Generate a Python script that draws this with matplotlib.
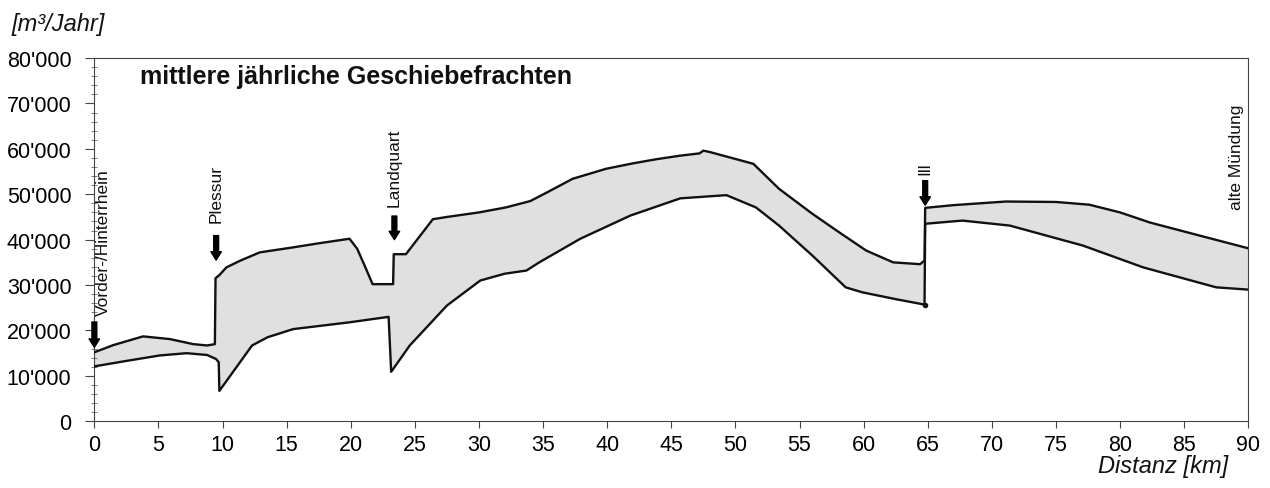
import numpy as np
import matplotlib
matplotlib.use('Agg')
import matplotlib.pyplot as plt
from matplotlib.ticker import MultipleLocator, FuncFormatter

plt.rcParams['font.family'] = ['Liberation Sans', 'DejaVu Sans']

# upper bound of the mean annual bedload [m3/year] along the river [km]
upper_km = [0, 1.5, 3.8, 5.9, 7.7, 8.8, 9.4, 9.45, 9.75, 10.3, 11.4, 12.9, 15.5,
            17.5, 19.9, 20.5, 21.2, 21.7, 23.3, 23.35, 24.3, 26.4, 27.5, 30.0,
            32.1, 34.0, 35.3, 37.3, 39.9, 42.0, 43.8, 45.7, 47.2, 47.5, 48.0, 51.4,
            53.4, 56.0, 58.1, 60.2, 62.3, 64.4, 64.75, 64.8, 67.0, 71.1, 75.0,
            77.6, 80.0, 82.3, 86.2, 90.0]
upper_m3 = [15200, 16800, 18700, 18100, 17000, 16700, 17000, 31500, 32200, 33900,
            35400, 37200, 38300, 39200, 40200, 38000, 33500, 30200, 30200, 36800,
            36800, 44500, 45000, 46000, 47100, 48500, 50400, 53400, 55600, 56800,
            57700, 58500, 59000, 59600, 59300, 56700, 51200, 45700, 41600, 37600,
            35000, 34600, 35400, 47000, 47600, 48400, 48300, 47700, 46000, 43800,
            40900, 38100]

# lower bound
lower_km = [0, 2.5, 5.1, 7.2, 8.8, 9.5, 9.7, 9.75, 12.3, 13.5, 15.5, 19.9, 22.95,
            23.15, 24.6, 27.5, 30.1, 32.0, 33.7, 34.7, 37.9, 41.8, 45.7, 49.3,
            51.6, 53.4, 56.0, 58.6, 59.9, 62.5, 64.75, 64.8, 67.7, 71.4, 77.1,
            81.8, 87.5, 90.0]
lower_m3 = [12100, 13300, 14500, 15000, 14600, 13700, 13000, 6700, 16700, 18500,
            20300, 21800, 23000, 10900, 16700, 25500, 31000, 32500, 33200, 35000,
            40200, 45300, 49100, 49800, 47100, 43100, 36500, 29500, 28400, 26900,
            25700, 43500, 44200, 43100, 38700, 33900, 29500, 29000]

# tributaries: name, km, label start, arrow top, arrow tip
trib_names = ['Vorder-/Hinterrhein', 'Plessur', 'Landquart', 'Ill']
trib_km = [0.0, 9.5, 23.4, 64.8]
trib_label_x = [0.7, 9.5, 23.4, 64.8]
trib_label_y = [23500, 43900, 47400, 54400]
arrow_top = [21800, 40900, 45200, 53000]
arrow_tip = [16300, 35500, 40000, 47600]


def fmt_thousands(v, pos):
    return f"{v:,.0f}".replace(',', "'")


fig = plt.figure(figsize=(12.7, 4.89), dpi=100)
ax = fig.add_axes([0.0743, 0.1364, 0.9086, 0.7429])

poly_x = np.concatenate([upper_km, lower_km[::-1]])
poly_y = np.concatenate([upper_m3, lower_m3[::-1]])
ax.fill(poly_x, poly_y, color='#e0e0e0', edgecolor='none', zorder=1)
ax.plot(upper_km, upper_m3, color='#111111', lw=1.7, zorder=3)
ax.plot(lower_km, lower_m3, color='#111111', lw=1.7, zorder=3)
ax.plot(lower_km[30], lower_m3[30], 'o', color='#111111', ms=3, zorder=4)

for name, xk, lx, ly, top, tip in zip(trib_names, trib_km, trib_label_x,
                                      trib_label_y, arrow_top, arrow_tip):
    ax.annotate('', xy=(xk, tip), xytext=(xk, top),
                arrowprops=dict(arrowstyle='simple,head_width=0.75,head_length=0.6,tail_width=0.35',
                                color='black', shrinkA=0, shrinkB=0), zorder=5)
    ax.text(lx, ly, name, rotation=90, ha='center', va='bottom', fontsize=12.5,
            color='#111111')

ax.text(89.1, 46800, 'alte Mündung', rotation=90, ha='center', va='bottom',
        fontsize=12.5, color='#111111')

ax.text(0.0396, 0.950, 'mittlere jährliche Geschiebefrachten', transform=ax.transAxes,
        fontsize=18, fontweight='bold', va='center', ha='left', color='#111111')

ax.set_xlim(0, 90)
ax.set_ylim(0, 80000)
ax.xaxis.set_major_locator(MultipleLocator(5))
ax.yaxis.set_major_locator(MultipleLocator(10000))
ax.yaxis.set_minor_locator(MultipleLocator(2000))
ax.yaxis.set_major_formatter(FuncFormatter(fmt_thousands))

ax.tick_params(axis='x', which='major', direction='out', length=5, width=0.8,
               pad=4, labelsize=15.5, color='#444444')
ax.tick_params(axis='y', which='major', direction='out', length=6.5, width=0.8,
               pad=10, labelsize=15.5, color='#444444')
ax.tick_params(axis='y', which='minor', direction='inout', length=4, width=0.6,
               color='#666666')

for side in ['left', 'bottom', 'top', 'right']:
    ax.spines[side].set_linewidth(0.8)
    ax.spines[side].set_color('#444444')

fig.text(0.0094, 0.949, '[m³/Jahr]', fontsize=17, style='italic', va='center',
         ha='left', color='#111111')
fig.text(0.967, 0.045, 'Distanz [km]', fontsize=17, style='italic', va='center',
         ha='right', color='#111111')

fig.savefig('out.png', dpi=100)
